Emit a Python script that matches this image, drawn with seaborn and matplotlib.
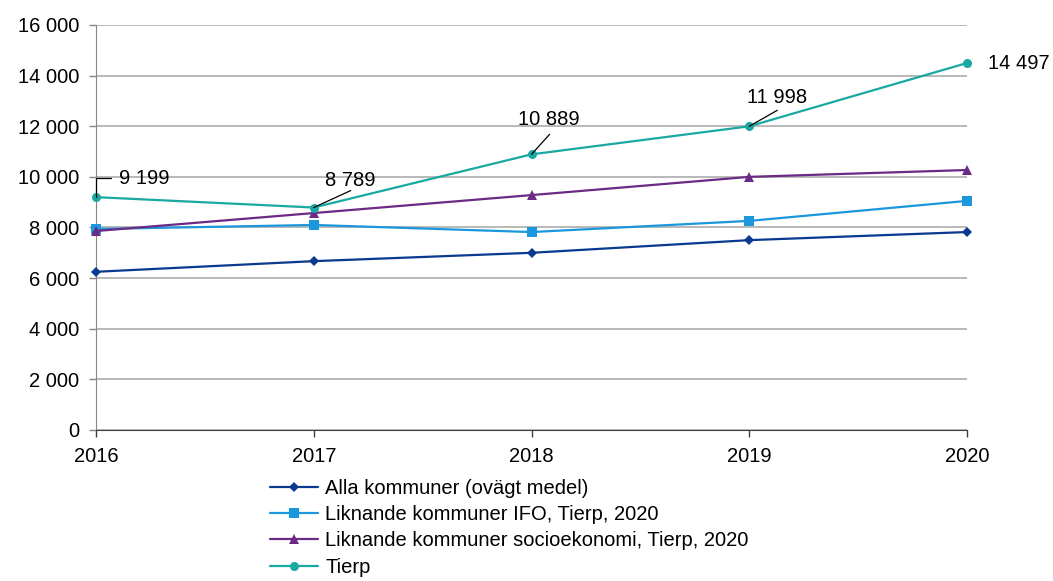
import matplotlib
matplotlib.use("Agg")
import matplotlib.pyplot as plt
from matplotlib.ticker import FuncFormatter
import seaborn as sns
import pandas as pd

years = [2016, 2017, 2018, 2019, 2020]
alla = [6250, 6670, 7000, 7500, 7820]
ifo = [7940, 8100, 7820, 8260, 9050]
socio = [7860, 8570, 9280, 10000, 10270]
tierp = [9199, 8789, 10889, 11998, 14497]

names = ["Alla kommuner (ovägt medel)",
         "Liknande kommuner IFO, Tierp, 2020",
         "Liknande kommuner socioekonomi, Tierp, 2020",
         "Tierp"]
colors = ["#0a3a8f", "#1a97dd", "#6b2a86", "#1aa8a2"]
markers = ["D", "s", "^", "o"]
msizes = [5, 6.5, 6.5, 6.5]

df = pd.concat([
    pd.DataFrame({"year": years, "value": vals, "series": name})
    for name, vals in zip(names, [alla, ifo, socio, tierp])
])

sns.set_style("white")
plt.rcParams["font.family"] = ["Liberation Sans", "DejaVu Sans"]
plt.rcParams["text.color"] = "black"

fig = plt.figure(figsize=(10.53, 5.81), dpi=100)
ax = fig.add_axes([0.0912, 0.2599, 0.8271, 0.6971])

for name, c, m, ms in zip(names, colors, markers, msizes):
    sns.lineplot(data=df[df.series == name], x="year", y="value", ax=ax,
                 color=c, marker=m, markersize=ms, markeredgewidth=0,
                 linewidth=1.6, label=name, clip_on=False, zorder=3)

ax.set_xlim(2016, 2020)
ax.set_ylim(0, 16000)
ax.set_xticks(years)
ax.set_yticks(range(0, 16001, 2000))
ax.yaxis.set_major_formatter(FuncFormatter(lambda v, p: f"{int(v):,}".replace(",", " ")))
ax.set_xlabel("")
ax.set_ylabel("")
ax.yaxis.grid(True, color="#a6a6a6", linewidth=1.1)
ax.xaxis.grid(False)
for s in ["top", "right"]:
    ax.spines[s].set_visible(False)
ax.spines["left"].set_color("#868686")
ax.spines["bottom"].set_color("#404040")
ax.tick_params(axis="both", labelsize=14.5, length=5, direction="out",
               labelcolor="black", width=1, bottom=True, left=True)
ax.tick_params(axis="y", color="#868686", pad=7)
ax.tick_params(axis="x", color="#404040", pad=7)

# datalabels for Tierp
labels = [
    (0, (10.8, 13.7), (16.6, 13.7), "left", "angle,angleA=0,angleB=90,rad=0"),
    (1, (26.6, 12.2), (26.3, 19.4), "center", None),
    (2, (13.0, 14.4), (12.6, 25.2), "center", None),
    (3, (20.2, 11.5), (19.8, 20.9), "center", None),
]
for i, lead, txt, ha, cs in labels:
    ap = dict(arrowstyle="-", color="black", lw=0.9, shrinkA=0, shrinkB=0)
    if cs:
        ap["connectionstyle"] = cs
    ax.annotate("", xy=(years[i], tierp[i]), xytext=lead,
                textcoords="offset points", arrowprops=ap, zorder=4)
    ax.annotate(f"{tierp[i]:,}".replace(",", " "), xy=(years[i], tierp[i]),
                xytext=txt, textcoords="offset points", ha=ha, va="center",
                fontsize=14.5, color="black", annotation_clip=False)
ax.annotate(f"{tierp[4]:,}".replace(",", " "), xy=(years[4], tierp[4]),
            xytext=(15.1, 0), textcoords="offset points", ha="left",
            va="center", fontsize=14.5, color="black", annotation_clip=False)

ax.get_legend().remove()
handles, lbls = ax.get_legend_handles_labels()
fig.legend(handles, lbls, loc="upper left", bbox_to_anchor=(270 / 1053, 1 - 479 / 581),
           frameon=False, fontsize=14.5, handlelength=2.4, handletextpad=0.35,
           labelspacing=0.36, borderpad=0, borderaxespad=0, labelcolor="black")

fig.savefig("out.png", dpi=100)
